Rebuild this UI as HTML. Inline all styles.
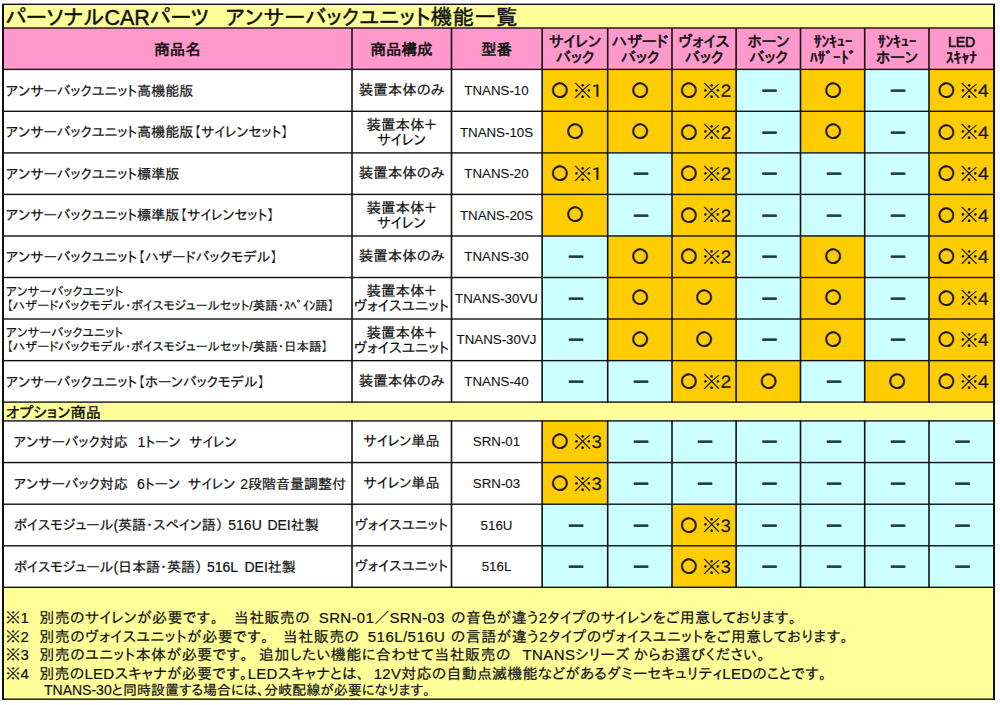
<!DOCTYPE html>
<html lang="ja"><head><meta charset="utf-8"><title>アンサーバックユニット機能一覧</title>
<style>
html,body{margin:0;padding:0;background:#fff;}
body{width:1000px;height:705px;position:relative;overflow:hidden;font-family:"Liberation Sans", "IPAPGothic", "IPAGothic", "Noto Sans CJK JP", sans-serif;color:#111;}
.b,.t,.l,.note{position:absolute;box-sizing:border-box;}
.t,.note,.seg{-webkit-text-stroke:0.2px #111;}
.t .k{-webkit-text-stroke:0;}
.t .o{-webkit-text-stroke:0.7px #111;}
.t.model{-webkit-text-stroke:0.1px #111;}
.l{background:#111;}
.t{display:flex;align-items:center;justify-content:center;text-align:center;font-size:13px;line-height:15px;white-space:nowrap;}
.title{position:absolute;top:5px;height:23px;line-height:23px;padding-top:2px;box-sizing:border-box;font-size:21.5px;white-space:nowrap;-webkit-text-stroke:0.45px #111;}
.hd{font-size:15.5px;line-height:16.5px;padding-top:2.5px;-webkit-text-stroke:0.6px #111;}
.hk{}
.name{justify-content:flex-start;text-align:left;padding-left:2px;padding-top:1px;font-size:14px;}
.name.small{font-size:12.5px;line-height:14px;}
.two{padding-top:2px;}
.seg{position:absolute;display:flex;align-items:center;font-size:14px;white-space:nowrap;}
.led{font-size:14px;}
.name.opt{padding-left:13px;}
.c{font-size:14.5px;}
.copt{font-size:14.2px;}
.model{font-size:13.3px;}
.mk{font-size:15px;}
.o,.k{font-family:"IPAPGothic","IPAGothic",sans-serif;font-size:18px;}
.k{font-size:19px;position:relative;top:0.5px;}
.n{font-family:"IPAPGothic","IPAGothic",sans-serif;font-size:17px;margin-left:-0.5px;-webkit-text-stroke:0.35px #111;}
.mk2{padding-left:3px;}
.dash{font-family:"IPAPGothic","IPAGothic",sans-serif;font-size:16.5px;font-weight:bold;color:#243f3f;-webkit-text-stroke:0.3px #243f3f;padding-left:2px;}
.opth{justify-content:flex-start;padding-left:2px;font-size:15.3px;padding-top:1px;-webkit-text-stroke:0.4px #111;}
.note{font-size:15px;line-height:15px;white-space:nowrap;}
</style></head><body>
<div class="b" style="left:4px;top:4px;width:989px;height:25px;background:#FFFF99"></div><div class="title" style="left:5.5px">パーソナルCARパーツ</div><div class="title" style="left:226px;letter-spacing:0.28px">アンサーバックユニット機能一覧</div><div class="b" style="left:4px;top:28px;width:989px;height:42px;background:#FF99CC"></div><div class="t hd" style="left:4px;top:29px;width:347px;height:40px;"><div>商品名</div></div><div class="t hd" style="left:353px;top:29px;width:97px;height:40px;"><div>商品構成</div></div><div class="t hd" style="left:452px;top:29px;width:89px;height:40px;"><div>型番</div></div><div class="t hd" style="left:543px;top:29px;width:64px;height:40px;"><div>サイレン<br>バック</div></div><div class="t hd" style="left:609px;top:29px;width:62px;height:40px;"><div>ハザード<br>バック</div></div><div class="t hd" style="left:673px;top:29px;width:62px;height:40px;"><div>ヴォイス<br>バック</div></div><div class="t hd" style="left:737px;top:29px;width:63px;height:40px;"><div>ホーン<br>バック</div></div><div class="t hd" style="left:802px;top:29px;width:62px;height:40px;"><div><span class="hk">ｻﾝｷｭｰ<br>ﾊｻﾞｰﾄﾞ</span></div></div><div class="t hd" style="left:866px;top:29px;width:62px;height:40px;"><div><span class="hk">ｻﾝｷｭｰ</span><br>ホーン</div></div><div class="t hd" style="left:930px;top:29px;width:63px;height:40px;"><div><span class="led">LED</span><br><span class="hk">ｽｷｬﾅ</span></div></div><div class="b" style="left:4px;top:69px;width:989px;height:43px;background:#FFFFFF"></div><div class="t name" style="left:4px;top:70px;width:347px;height:41px;"><div>アンサーバックユニット高機能版</div></div><div class="t c" style="left:353px;top:70px;width:97px;height:41px;"><div>装置本体のみ</div></div><div class="t c model" style="left:452px;top:70px;width:89px;height:41px;"><div>TNANS-10</div></div><div class="b" style="left:542px;top:69px;width:66px;height:43px;background:#FFCC00"></div><div class="t c mk mk2" style="left:543px;top:70px;width:64px;height:41px;"><div><span class="o">○</span><span class="sp"> </span><span class="k">※</span><span class="n">1</span></div></div><div class="b" style="left:608px;top:69px;width:64px;height:43px;background:#FFCC00"></div><div class="t c mk" style="left:609px;top:70px;width:62px;height:41px;"><div><span class="o">○</span></div></div><div class="b" style="left:672px;top:69px;width:64px;height:43px;background:#FFCC00"></div><div class="t c mk mk2" style="left:673px;top:70px;width:62px;height:41px;"><div><span class="o">○</span><span class="sp"> </span><span class="k">※</span><span class="n">2</span></div></div><div class="b" style="left:736px;top:69px;width:65px;height:43px;background:#CCFFFF"></div><div class="t c dash" style="left:737px;top:70px;width:63px;height:41px;"><div>ー</div></div><div class="b" style="left:801px;top:69px;width:64px;height:43px;background:#FFCC00"></div><div class="t c mk" style="left:802px;top:70px;width:62px;height:41px;"><div><span class="o">○</span></div></div><div class="b" style="left:865px;top:69px;width:64px;height:43px;background:#CCFFFF"></div><div class="t c dash" style="left:866px;top:70px;width:62px;height:41px;"><div>ー</div></div><div class="b" style="left:929px;top:69px;width:64px;height:43px;background:#FFCC00"></div><div class="t c mk mk2" style="left:930px;top:70px;width:63px;height:41px;"><div><span class="o">○</span><span class="sp"> </span><span class="k">※</span><span class="n">4</span></div></div><div class="b" style="left:4px;top:111px;width:989px;height:42px;background:#FFFFFF"></div><div class="t name" style="left:4px;top:112px;width:347px;height:40px;"><div>アンサーバックユニット高機能版【サイレンセット】</div></div><div class="t c two" style="left:353px;top:112px;width:97px;height:40px;"><div>装置本体＋<br>サイレン</div></div><div class="t c model" style="left:452px;top:112px;width:89px;height:40px;"><div>TNANS-10S</div></div><div class="b" style="left:542px;top:111px;width:66px;height:42px;background:#FFCC00"></div><div class="t c mk" style="left:543px;top:112px;width:64px;height:40px;"><div><span class="o">○</span></div></div><div class="b" style="left:608px;top:111px;width:64px;height:42px;background:#FFCC00"></div><div class="t c mk" style="left:609px;top:112px;width:62px;height:40px;"><div><span class="o">○</span></div></div><div class="b" style="left:672px;top:111px;width:64px;height:42px;background:#FFCC00"></div><div class="t c mk mk2" style="left:673px;top:112px;width:62px;height:40px;"><div><span class="o">○</span><span class="sp"> </span><span class="k">※</span><span class="n">2</span></div></div><div class="b" style="left:736px;top:111px;width:65px;height:42px;background:#CCFFFF"></div><div class="t c dash" style="left:737px;top:112px;width:63px;height:40px;"><div>ー</div></div><div class="b" style="left:801px;top:111px;width:64px;height:42px;background:#FFCC00"></div><div class="t c mk" style="left:802px;top:112px;width:62px;height:40px;"><div><span class="o">○</span></div></div><div class="b" style="left:865px;top:111px;width:64px;height:42px;background:#CCFFFF"></div><div class="t c dash" style="left:866px;top:112px;width:62px;height:40px;"><div>ー</div></div><div class="b" style="left:929px;top:111px;width:64px;height:42px;background:#FFCC00"></div><div class="t c mk mk2" style="left:930px;top:112px;width:63px;height:40px;"><div><span class="o">○</span><span class="sp"> </span><span class="k">※</span><span class="n">4</span></div></div><div class="b" style="left:4px;top:152px;width:989px;height:43px;background:#FFFFFF"></div><div class="t name" style="left:4px;top:153px;width:347px;height:41px;"><div>アンサーバックユニット標準版</div></div><div class="t c" style="left:353px;top:153px;width:97px;height:41px;"><div>装置本体のみ</div></div><div class="t c model" style="left:452px;top:153px;width:89px;height:41px;"><div>TNANS-20</div></div><div class="b" style="left:542px;top:152px;width:66px;height:43px;background:#FFCC00"></div><div class="t c mk mk2" style="left:543px;top:153px;width:64px;height:41px;"><div><span class="o">○</span><span class="sp"> </span><span class="k">※</span><span class="n">1</span></div></div><div class="b" style="left:608px;top:152px;width:64px;height:43px;background:#CCFFFF"></div><div class="t c dash" style="left:609px;top:153px;width:62px;height:41px;"><div>ー</div></div><div class="b" style="left:672px;top:152px;width:64px;height:43px;background:#FFCC00"></div><div class="t c mk mk2" style="left:673px;top:153px;width:62px;height:41px;"><div><span class="o">○</span><span class="sp"> </span><span class="k">※</span><span class="n">2</span></div></div><div class="b" style="left:736px;top:152px;width:65px;height:43px;background:#CCFFFF"></div><div class="t c dash" style="left:737px;top:153px;width:63px;height:41px;"><div>ー</div></div><div class="b" style="left:801px;top:152px;width:64px;height:43px;background:#CCFFFF"></div><div class="t c dash" style="left:802px;top:153px;width:62px;height:41px;"><div>ー</div></div><div class="b" style="left:865px;top:152px;width:64px;height:43px;background:#CCFFFF"></div><div class="t c dash" style="left:866px;top:153px;width:62px;height:41px;"><div>ー</div></div><div class="b" style="left:929px;top:152px;width:64px;height:43px;background:#FFCC00"></div><div class="t c mk mk2" style="left:930px;top:153px;width:63px;height:41px;"><div><span class="o">○</span><span class="sp"> </span><span class="k">※</span><span class="n">4</span></div></div><div class="b" style="left:4px;top:194px;width:989px;height:42px;background:#FFFFFF"></div><div class="t name" style="left:4px;top:195px;width:347px;height:40px;"><div>アンサーバックユニット標準版【サイレンセット】</div></div><div class="t c two" style="left:353px;top:195px;width:97px;height:40px;"><div>装置本体＋<br>サイレン</div></div><div class="t c model" style="left:452px;top:195px;width:89px;height:40px;"><div>TNANS-20S</div></div><div class="b" style="left:542px;top:194px;width:66px;height:42px;background:#FFCC00"></div><div class="t c mk" style="left:543px;top:195px;width:64px;height:40px;"><div><span class="o">○</span></div></div><div class="b" style="left:608px;top:194px;width:64px;height:42px;background:#CCFFFF"></div><div class="t c dash" style="left:609px;top:195px;width:62px;height:40px;"><div>ー</div></div><div class="b" style="left:672px;top:194px;width:64px;height:42px;background:#FFCC00"></div><div class="t c mk mk2" style="left:673px;top:195px;width:62px;height:40px;"><div><span class="o">○</span><span class="sp"> </span><span class="k">※</span><span class="n">2</span></div></div><div class="b" style="left:736px;top:194px;width:65px;height:42px;background:#CCFFFF"></div><div class="t c dash" style="left:737px;top:195px;width:63px;height:40px;"><div>ー</div></div><div class="b" style="left:801px;top:194px;width:64px;height:42px;background:#CCFFFF"></div><div class="t c dash" style="left:802px;top:195px;width:62px;height:40px;"><div>ー</div></div><div class="b" style="left:865px;top:194px;width:64px;height:42px;background:#CCFFFF"></div><div class="t c dash" style="left:866px;top:195px;width:62px;height:40px;"><div>ー</div></div><div class="b" style="left:929px;top:194px;width:64px;height:42px;background:#FFCC00"></div><div class="t c mk mk2" style="left:930px;top:195px;width:63px;height:40px;"><div><span class="o">○</span><span class="sp"> </span><span class="k">※</span><span class="n">4</span></div></div><div class="b" style="left:4px;top:235px;width:989px;height:43px;background:#FFFFFF"></div><div class="t name" style="left:4px;top:236px;width:347px;height:41px;"><div>アンサーバックユニット【ハザードバックモデル】</div></div><div class="t c" style="left:353px;top:236px;width:97px;height:41px;"><div>装置本体のみ</div></div><div class="t c model" style="left:452px;top:236px;width:89px;height:41px;"><div>TNANS-30</div></div><div class="b" style="left:542px;top:235px;width:66px;height:43px;background:#CCFFFF"></div><div class="t c dash" style="left:543px;top:236px;width:64px;height:41px;"><div>ー</div></div><div class="b" style="left:608px;top:235px;width:64px;height:43px;background:#FFCC00"></div><div class="t c mk" style="left:609px;top:236px;width:62px;height:41px;"><div><span class="o">○</span></div></div><div class="b" style="left:672px;top:235px;width:64px;height:43px;background:#FFCC00"></div><div class="t c mk mk2" style="left:673px;top:236px;width:62px;height:41px;"><div><span class="o">○</span><span class="sp"> </span><span class="k">※</span><span class="n">2</span></div></div><div class="b" style="left:736px;top:235px;width:65px;height:43px;background:#CCFFFF"></div><div class="t c dash" style="left:737px;top:236px;width:63px;height:41px;"><div>ー</div></div><div class="b" style="left:801px;top:235px;width:64px;height:43px;background:#FFCC00"></div><div class="t c mk" style="left:802px;top:236px;width:62px;height:41px;"><div><span class="o">○</span></div></div><div class="b" style="left:865px;top:235px;width:64px;height:43px;background:#CCFFFF"></div><div class="t c dash" style="left:866px;top:236px;width:62px;height:41px;"><div>ー</div></div><div class="b" style="left:929px;top:235px;width:64px;height:43px;background:#FFCC00"></div><div class="t c mk mk2" style="left:930px;top:236px;width:63px;height:41px;"><div><span class="o">○</span><span class="sp"> </span><span class="k">※</span><span class="n">4</span></div></div><div class="b" style="left:4px;top:277px;width:989px;height:42px;background:#FFFFFF"></div><div class="t name small" style="left:4px;top:278px;width:347px;height:40px;"><div>アンサーバックユニット<br>【ハザードバックモデル・ボイスモジュールセット/英語・ｽﾍﾟｲﾝ語】</div></div><div class="t c two" style="left:353px;top:278px;width:97px;height:40px;"><div>装置本体＋<br>ヴォイスユニット</div></div><div class="t c model" style="left:452px;top:278px;width:89px;height:40px;"><div>TNANS-30VU</div></div><div class="b" style="left:542px;top:277px;width:66px;height:42px;background:#CCFFFF"></div><div class="t c dash" style="left:543px;top:278px;width:64px;height:40px;"><div>ー</div></div><div class="b" style="left:608px;top:277px;width:64px;height:42px;background:#FFCC00"></div><div class="t c mk" style="left:609px;top:278px;width:62px;height:40px;"><div><span class="o">○</span></div></div><div class="b" style="left:672px;top:277px;width:64px;height:42px;background:#FFCC00"></div><div class="t c mk" style="left:673px;top:278px;width:62px;height:40px;"><div><span class="o">○</span></div></div><div class="b" style="left:736px;top:277px;width:65px;height:42px;background:#CCFFFF"></div><div class="t c dash" style="left:737px;top:278px;width:63px;height:40px;"><div>ー</div></div><div class="b" style="left:801px;top:277px;width:64px;height:42px;background:#FFCC00"></div><div class="t c mk" style="left:802px;top:278px;width:62px;height:40px;"><div><span class="o">○</span></div></div><div class="b" style="left:865px;top:277px;width:64px;height:42px;background:#CCFFFF"></div><div class="t c dash" style="left:866px;top:278px;width:62px;height:40px;"><div>ー</div></div><div class="b" style="left:929px;top:277px;width:64px;height:42px;background:#FFCC00"></div><div class="t c mk mk2" style="left:930px;top:278px;width:63px;height:40px;"><div><span class="o">○</span><span class="sp"> </span><span class="k">※</span><span class="n">4</span></div></div><div class="b" style="left:4px;top:318px;width:989px;height:43px;background:#FFFFFF"></div><div class="t name small" style="left:4px;top:319px;width:347px;height:41px;"><div>アンサーバックユニット<br>【ハザードバックモデル・ボイスモジュールセット/英語・日本語】</div></div><div class="t c two" style="left:353px;top:319px;width:97px;height:41px;"><div>装置本体＋<br>ヴォイスユニット</div></div><div class="t c model" style="left:452px;top:319px;width:89px;height:41px;"><div>TNANS-30VJ</div></div><div class="b" style="left:542px;top:318px;width:66px;height:43px;background:#CCFFFF"></div><div class="t c dash" style="left:543px;top:319px;width:64px;height:41px;"><div>ー</div></div><div class="b" style="left:608px;top:318px;width:64px;height:43px;background:#FFCC00"></div><div class="t c mk" style="left:609px;top:319px;width:62px;height:41px;"><div><span class="o">○</span></div></div><div class="b" style="left:672px;top:318px;width:64px;height:43px;background:#FFCC00"></div><div class="t c mk" style="left:673px;top:319px;width:62px;height:41px;"><div><span class="o">○</span></div></div><div class="b" style="left:736px;top:318px;width:65px;height:43px;background:#CCFFFF"></div><div class="t c dash" style="left:737px;top:319px;width:63px;height:41px;"><div>ー</div></div><div class="b" style="left:801px;top:318px;width:64px;height:43px;background:#FFCC00"></div><div class="t c mk" style="left:802px;top:319px;width:62px;height:41px;"><div><span class="o">○</span></div></div><div class="b" style="left:865px;top:318px;width:64px;height:43px;background:#CCFFFF"></div><div class="t c dash" style="left:866px;top:319px;width:62px;height:41px;"><div>ー</div></div><div class="b" style="left:929px;top:318px;width:64px;height:43px;background:#FFCC00"></div><div class="t c mk mk2" style="left:930px;top:319px;width:63px;height:41px;"><div><span class="o">○</span><span class="sp"> </span><span class="k">※</span><span class="n">4</span></div></div><div class="b" style="left:4px;top:360px;width:989px;height:43px;background:#FFFFFF"></div><div class="t name" style="left:4px;top:361px;width:347px;height:41px;"><div>アンサーバックユニット【ホーンバックモデル】</div></div><div class="t c" style="left:353px;top:361px;width:97px;height:41px;"><div>装置本体のみ</div></div><div class="t c model" style="left:452px;top:361px;width:89px;height:41px;"><div>TNANS-40</div></div><div class="b" style="left:542px;top:360px;width:66px;height:43px;background:#CCFFFF"></div><div class="t c dash" style="left:543px;top:361px;width:64px;height:41px;"><div>ー</div></div><div class="b" style="left:608px;top:360px;width:64px;height:43px;background:#CCFFFF"></div><div class="t c dash" style="left:609px;top:361px;width:62px;height:41px;"><div>ー</div></div><div class="b" style="left:672px;top:360px;width:64px;height:43px;background:#FFCC00"></div><div class="t c mk mk2" style="left:673px;top:361px;width:62px;height:41px;"><div><span class="o">○</span><span class="sp"> </span><span class="k">※</span><span class="n">2</span></div></div><div class="b" style="left:736px;top:360px;width:65px;height:43px;background:#FFCC00"></div><div class="t c mk" style="left:737px;top:361px;width:63px;height:41px;"><div><span class="o">○</span></div></div><div class="b" style="left:801px;top:360px;width:64px;height:43px;background:#CCFFFF"></div><div class="t c dash" style="left:802px;top:361px;width:62px;height:41px;"><div>ー</div></div><div class="b" style="left:865px;top:360px;width:64px;height:43px;background:#FFCC00"></div><div class="t c mk" style="left:866px;top:361px;width:62px;height:41px;"><div><span class="o">○</span></div></div><div class="b" style="left:929px;top:360px;width:64px;height:43px;background:#FFCC00"></div><div class="t c mk mk2" style="left:930px;top:361px;width:63px;height:41px;"><div><span class="o">○</span><span class="sp"> </span><span class="k">※</span><span class="n">4</span></div></div><div class="b" style="left:4px;top:402px;width:989px;height:19px;background:#FFFF99"></div><div class="t opth" style="left:4px;top:403px;width:989px;height:17px;"><div>オプション商品</div></div><div class="b" style="left:4px;top:420px;width:989px;height:43px;background:#FFFFFF"></div><div class="seg" style="left:14px;top:421px;height:41px">アンサーバック対応</div><div class="seg" style="left:137.5px;top:421px;height:41px">1トーン</div><div class="seg" style="left:189px;top:421px;height:41px">サイレン</div><div class="t c copt" style="left:353px;top:421px;width:97px;height:41px;"><div>サイレン単品</div></div><div class="t c model" style="left:452px;top:421px;width:89px;height:41px;"><div>SRN-01</div></div><div class="b" style="left:542px;top:420px;width:66px;height:43px;background:#FFCC00"></div><div class="t c mk mk2" style="left:543px;top:421px;width:64px;height:41px;"><div><span class="o">○</span><span class="sp"> </span><span class="k">※</span><span class="n">3</span></div></div><div class="b" style="left:608px;top:420px;width:64px;height:43px;background:#CCFFFF"></div><div class="t c dash" style="left:609px;top:421px;width:62px;height:41px;"><div>ー</div></div><div class="b" style="left:672px;top:420px;width:64px;height:43px;background:#CCFFFF"></div><div class="t c dash" style="left:673px;top:421px;width:62px;height:41px;"><div>ー</div></div><div class="b" style="left:736px;top:420px;width:65px;height:43px;background:#CCFFFF"></div><div class="t c dash" style="left:737px;top:421px;width:63px;height:41px;"><div>ー</div></div><div class="b" style="left:801px;top:420px;width:64px;height:43px;background:#CCFFFF"></div><div class="t c dash" style="left:802px;top:421px;width:62px;height:41px;"><div>ー</div></div><div class="b" style="left:865px;top:420px;width:64px;height:43px;background:#CCFFFF"></div><div class="t c dash" style="left:866px;top:421px;width:62px;height:41px;"><div>ー</div></div><div class="b" style="left:929px;top:420px;width:64px;height:43px;background:#CCFFFF"></div><div class="t c dash" style="left:930px;top:421px;width:63px;height:41px;"><div>ー</div></div><div class="b" style="left:4px;top:462px;width:989px;height:43px;background:#FFFFFF"></div><div class="seg" style="left:14px;top:463px;height:41px">アンサーバック対応</div><div class="seg" style="left:137px;top:463px;height:41px">6トーン</div><div class="seg" style="left:187.75px;top:463px;height:41px">サイレン</div><div class="seg" style="left:240.25px;top:463px;height:41px">2段階音量調整付</div><div class="t c copt" style="left:353px;top:463px;width:97px;height:41px;"><div>サイレン単品</div></div><div class="t c model" style="left:452px;top:463px;width:89px;height:41px;"><div>SRN-03</div></div><div class="b" style="left:542px;top:462px;width:66px;height:43px;background:#FFCC00"></div><div class="t c mk mk2" style="left:543px;top:463px;width:64px;height:41px;"><div><span class="o">○</span><span class="sp"> </span><span class="k">※</span><span class="n">3</span></div></div><div class="b" style="left:608px;top:462px;width:64px;height:43px;background:#CCFFFF"></div><div class="t c dash" style="left:609px;top:463px;width:62px;height:41px;"><div>ー</div></div><div class="b" style="left:672px;top:462px;width:64px;height:43px;background:#CCFFFF"></div><div class="t c dash" style="left:673px;top:463px;width:62px;height:41px;"><div>ー</div></div><div class="b" style="left:736px;top:462px;width:65px;height:43px;background:#CCFFFF"></div><div class="t c dash" style="left:737px;top:463px;width:63px;height:41px;"><div>ー</div></div><div class="b" style="left:801px;top:462px;width:64px;height:43px;background:#CCFFFF"></div><div class="t c dash" style="left:802px;top:463px;width:62px;height:41px;"><div>ー</div></div><div class="b" style="left:865px;top:462px;width:64px;height:43px;background:#CCFFFF"></div><div class="t c dash" style="left:866px;top:463px;width:62px;height:41px;"><div>ー</div></div><div class="b" style="left:929px;top:462px;width:64px;height:43px;background:#CCFFFF"></div><div class="t c dash" style="left:930px;top:463px;width:63px;height:41px;"><div>ー</div></div><div class="b" style="left:4px;top:504px;width:989px;height:42px;background:#FFFFFF"></div><div class="seg" style="left:14px;top:505px;height:40px">ボイスモジュール(英語・スペイン語）</div><div class="seg" style="left:228.3px;top:505px;height:40px">516U</div><div class="seg" style="left:267.4px;top:505px;height:40px">DEI社製</div><div class="t c copt" style="left:353px;top:505px;width:97px;height:40px;"><div>ヴォイスユニット</div></div><div class="t c model" style="left:452px;top:505px;width:89px;height:40px;"><div>516U</div></div><div class="b" style="left:542px;top:504px;width:66px;height:42px;background:#CCFFFF"></div><div class="t c dash" style="left:543px;top:505px;width:64px;height:40px;"><div>ー</div></div><div class="b" style="left:608px;top:504px;width:64px;height:42px;background:#CCFFFF"></div><div class="t c dash" style="left:609px;top:505px;width:62px;height:40px;"><div>ー</div></div><div class="b" style="left:672px;top:504px;width:64px;height:42px;background:#FFCC00"></div><div class="t c mk mk2" style="left:673px;top:505px;width:62px;height:40px;"><div><span class="o">○</span><span class="sp"> </span><span class="k">※</span><span class="n">3</span></div></div><div class="b" style="left:736px;top:504px;width:65px;height:42px;background:#CCFFFF"></div><div class="t c dash" style="left:737px;top:505px;width:63px;height:40px;"><div>ー</div></div><div class="b" style="left:801px;top:504px;width:64px;height:42px;background:#CCFFFF"></div><div class="t c dash" style="left:802px;top:505px;width:62px;height:40px;"><div>ー</div></div><div class="b" style="left:865px;top:504px;width:64px;height:42px;background:#CCFFFF"></div><div class="t c dash" style="left:866px;top:505px;width:62px;height:40px;"><div>ー</div></div><div class="b" style="left:929px;top:504px;width:64px;height:42px;background:#CCFFFF"></div><div class="t c dash" style="left:930px;top:505px;width:63px;height:40px;"><div>ー</div></div><div class="b" style="left:4px;top:545px;width:989px;height:43px;background:#FFFFFF"></div><div class="seg" style="left:14px;top:546px;height:41px">ボイスモジュール(日本語・英語）</div><div class="seg" style="left:207px;top:546px;height:41px">516L</div><div class="seg" style="left:244.5px;top:546px;height:41px">DEI社製</div><div class="t c copt" style="left:353px;top:546px;width:97px;height:41px;"><div>ヴォイスユニット</div></div><div class="t c model" style="left:452px;top:546px;width:89px;height:41px;"><div>516L</div></div><div class="b" style="left:542px;top:545px;width:66px;height:43px;background:#CCFFFF"></div><div class="t c dash" style="left:543px;top:546px;width:64px;height:41px;"><div>ー</div></div><div class="b" style="left:608px;top:545px;width:64px;height:43px;background:#CCFFFF"></div><div class="t c dash" style="left:609px;top:546px;width:62px;height:41px;"><div>ー</div></div><div class="b" style="left:672px;top:545px;width:64px;height:43px;background:#FFCC00"></div><div class="t c mk mk2" style="left:673px;top:546px;width:62px;height:41px;"><div><span class="o">○</span><span class="sp"> </span><span class="k">※</span><span class="n">3</span></div></div><div class="b" style="left:736px;top:545px;width:65px;height:43px;background:#CCFFFF"></div><div class="t c dash" style="left:737px;top:546px;width:63px;height:41px;"><div>ー</div></div><div class="b" style="left:801px;top:545px;width:64px;height:43px;background:#CCFFFF"></div><div class="t c dash" style="left:802px;top:546px;width:62px;height:41px;"><div>ー</div></div><div class="b" style="left:865px;top:545px;width:64px;height:43px;background:#CCFFFF"></div><div class="t c dash" style="left:866px;top:546px;width:62px;height:41px;"><div>ー</div></div><div class="b" style="left:929px;top:545px;width:64px;height:43px;background:#CCFFFF"></div><div class="t c dash" style="left:930px;top:546px;width:63px;height:41px;"><div>ー</div></div><div class="b" style="left:4px;top:587px;width:989px;height:112px;background:#FFFF99"></div><div class="note" style="left:5.5px;top:610px">※1</div><div class="note" style="left:39.3px;top:610px;letter-spacing:0.34px">別売のサイレンが必要です。</div><div class="note" style="left:233.8px;top:610px;letter-spacing:0.34px">当社販売の</div><div class="note" style="left:318.8px;top:610px;letter-spacing:0.34px">SRN-01／SRN-03</div><div class="note" style="left:451.0px;top:610px;letter-spacing:0.34px">の音色が違う2タイプのサイレンをご用意しております。</div><div class="note" style="left:5.5px;top:629px">※2</div><div class="note" style="left:39.3px;top:629px;letter-spacing:0.45px">別売のヴォイスユニットが必要です。</div><div class="note" style="left:282.8px;top:629px;letter-spacing:0.45px">当社販売の</div><div class="note" style="left:367.8px;top:629px;letter-spacing:0.45px">516L/516U</div><div class="note" style="left:450.8px;top:629px;letter-spacing:0.45px">の言語が違う2タイプのヴォイスユニットをご用意しております。</div><div class="note" style="left:5.5px;top:647px">※3</div><div class="note" style="left:39.3px;top:647px;letter-spacing:0.42px">別売のユニット本体が必要です。</div><div class="note" style="left:258.8px;top:647px;letter-spacing:0.42px">追加したい機能に合わせて当社販売の</div><div class="note" style="left:522.4px;top:647px;letter-spacing:0.42px">TNANSシリーズ</div><div class="note" style="left:633.5px;top:647px;letter-spacing:0.42px">からお選びください。</div><div class="note" style="left:5.5px;top:666px">※4</div><div class="note" style="left:39.3px;top:666px;letter-spacing:0.23px">別売のLEDスキャナが必要です。LEDスキャナとは、</div><div class="note" style="left:373.8px;top:666px;letter-spacing:0.23px">12V対応の自動点滅機能などがあるダミーセキュリティLEDのことです。</div><div class="note" style="left:44px;top:683px;font-size:14px">TNANS-30と同時設置する場合には、分岐配線が必要になります。</div>
<div class="l" style="left:2px;top:4px;width:2px;height:696px"></div><div class="l" style="left:993px;top:4px;width:2px;height:696px"></div><div class="l" style="left:351px;top:28px;width:1px;height:375px;opacity:0.80"></div><div class="l" style="left:352px;top:28px;width:1px;height:375px;opacity:0.80"></div><div class="l" style="left:351px;top:420px;width:1px;height:168px;opacity:0.80"></div><div class="l" style="left:352px;top:420px;width:1px;height:168px;opacity:0.80"></div><div class="l" style="left:450px;top:28px;width:1px;height:375px;opacity:0.30"></div><div class="l" style="left:451px;top:28px;width:1px;height:375px;opacity:1.00"></div><div class="l" style="left:452px;top:28px;width:1px;height:375px;opacity:0.30"></div><div class="l" style="left:450px;top:420px;width:1px;height:168px;opacity:0.30"></div><div class="l" style="left:451px;top:420px;width:1px;height:168px;opacity:1.00"></div><div class="l" style="left:452px;top:420px;width:1px;height:168px;opacity:0.30"></div><div class="l" style="left:541px;top:28px;width:1px;height:375px;opacity:0.65"></div><div class="l" style="left:542px;top:28px;width:1px;height:375px;opacity:0.95"></div><div class="l" style="left:541px;top:420px;width:1px;height:168px;opacity:0.65"></div><div class="l" style="left:542px;top:420px;width:1px;height:168px;opacity:0.95"></div><div class="l" style="left:606px;top:28px;width:1px;height:375px;opacity:0.10"></div><div class="l" style="left:607px;top:28px;width:1px;height:375px;opacity:1.00"></div><div class="l" style="left:608px;top:28px;width:1px;height:375px;opacity:0.50"></div><div class="l" style="left:606px;top:420px;width:1px;height:168px;opacity:0.10"></div><div class="l" style="left:607px;top:420px;width:1px;height:168px;opacity:1.00"></div><div class="l" style="left:608px;top:420px;width:1px;height:168px;opacity:0.50"></div><div class="l" style="left:671px;top:28px;width:1px;height:375px;opacity:0.80"></div><div class="l" style="left:672px;top:28px;width:1px;height:375px;opacity:0.80"></div><div class="l" style="left:671px;top:420px;width:1px;height:168px;opacity:0.80"></div><div class="l" style="left:672px;top:420px;width:1px;height:168px;opacity:0.80"></div><div class="l" style="left:735px;top:28px;width:1px;height:375px;opacity:0.70"></div><div class="l" style="left:736px;top:28px;width:1px;height:375px;opacity:0.90"></div><div class="l" style="left:735px;top:420px;width:1px;height:168px;opacity:0.70"></div><div class="l" style="left:736px;top:420px;width:1px;height:168px;opacity:0.90"></div><div class="l" style="left:799px;top:28px;width:1px;height:375px;opacity:0.30"></div><div class="l" style="left:800px;top:28px;width:1px;height:375px;opacity:1.00"></div><div class="l" style="left:801px;top:28px;width:1px;height:375px;opacity:0.30"></div><div class="l" style="left:799px;top:420px;width:1px;height:168px;opacity:0.30"></div><div class="l" style="left:800px;top:420px;width:1px;height:168px;opacity:1.00"></div><div class="l" style="left:801px;top:420px;width:1px;height:168px;opacity:0.30"></div><div class="l" style="left:863px;top:28px;width:1px;height:375px;opacity:0.10"></div><div class="l" style="left:864px;top:28px;width:1px;height:375px;opacity:1.00"></div><div class="l" style="left:865px;top:28px;width:1px;height:375px;opacity:0.50"></div><div class="l" style="left:863px;top:420px;width:1px;height:168px;opacity:0.10"></div><div class="l" style="left:864px;top:420px;width:1px;height:168px;opacity:1.00"></div><div class="l" style="left:865px;top:420px;width:1px;height:168px;opacity:0.50"></div><div class="l" style="left:928px;top:28px;width:1px;height:375px;opacity:0.80"></div><div class="l" style="left:929px;top:28px;width:1px;height:375px;opacity:0.80"></div><div class="l" style="left:928px;top:420px;width:1px;height:168px;opacity:0.80"></div><div class="l" style="left:929px;top:420px;width:1px;height:168px;opacity:0.80"></div><div class="l" style="left:2px;top:3px;width:993px;height:1px;opacity:0.40"></div><div class="l" style="left:2px;top:4px;width:993px;height:1px;opacity:1.00"></div><div class="l" style="left:2px;top:27px;width:993px;height:1px;opacity:0.70"></div><div class="l" style="left:2px;top:28px;width:993px;height:1px;opacity:0.70"></div><div class="l" style="left:2px;top:68px;width:993px;height:1px;opacity:0.30"></div><div class="l" style="left:2px;top:69px;width:993px;height:1px;opacity:1.00"></div><div class="l" style="left:2px;top:70px;width:993px;height:1px;opacity:0.10"></div><div class="l" style="left:2px;top:110px;width:993px;height:1px;opacity:0.40"></div><div class="l" style="left:2px;top:111px;width:993px;height:1px;opacity:1.00"></div><div class="l" style="left:2px;top:152px;width:993px;height:1px;opacity:0.80"></div><div class="l" style="left:2px;top:153px;width:993px;height:1px;opacity:0.60"></div><div class="l" style="left:2px;top:193px;width:993px;height:1px;opacity:0.30"></div><div class="l" style="left:2px;top:194px;width:993px;height:1px;opacity:1.00"></div><div class="l" style="left:2px;top:195px;width:993px;height:1px;opacity:0.10"></div><div class="l" style="left:2px;top:235px;width:993px;height:1px;opacity:0.70"></div><div class="l" style="left:2px;top:236px;width:993px;height:1px;opacity:0.70"></div><div class="l" style="left:2px;top:276px;width:993px;height:1px;opacity:0.20"></div><div class="l" style="left:2px;top:277px;width:993px;height:1px;opacity:1.00"></div><div class="l" style="left:2px;top:278px;width:993px;height:1px;opacity:0.20"></div><div class="l" style="left:2px;top:318px;width:993px;height:1px;opacity:0.70"></div><div class="l" style="left:2px;top:319px;width:993px;height:1px;opacity:0.70"></div><div class="l" style="left:2px;top:359px;width:993px;height:1px;opacity:0.05"></div><div class="l" style="left:2px;top:360px;width:993px;height:1px;opacity:1.00"></div><div class="l" style="left:2px;top:361px;width:993px;height:1px;opacity:0.35"></div><div class="l" style="left:2px;top:401px;width:993px;height:1px;opacity:0.60"></div><div class="l" style="left:2px;top:402px;width:993px;height:1px;opacity:0.80"></div><div class="l" style="left:2px;top:420px;width:993px;height:1px;opacity:0.80"></div><div class="l" style="left:2px;top:421px;width:993px;height:1px;opacity:0.60"></div><div class="l" style="left:2px;top:461px;width:993px;height:1px;opacity:0.15"></div><div class="l" style="left:2px;top:462px;width:993px;height:1px;opacity:1.00"></div><div class="l" style="left:2px;top:463px;width:993px;height:1px;opacity:0.25"></div><div class="l" style="left:2px;top:503px;width:993px;height:1px;opacity:0.50"></div><div class="l" style="left:2px;top:504px;width:993px;height:1px;opacity:0.90"></div><div class="l" style="left:2px;top:545px;width:993px;height:1px;opacity:0.90"></div><div class="l" style="left:2px;top:546px;width:993px;height:1px;opacity:0.50"></div><div class="l" style="left:2px;top:586px;width:993px;height:1px;opacity:0.40"></div><div class="l" style="left:2px;top:587px;width:993px;height:1px;opacity:1.00"></div><div class="l" style="left:2px;top:698px;width:993px;height:1px;opacity:0.50"></div><div class="l" style="left:2px;top:699px;width:993px;height:1px;opacity:0.90"></div>
</body></html>
